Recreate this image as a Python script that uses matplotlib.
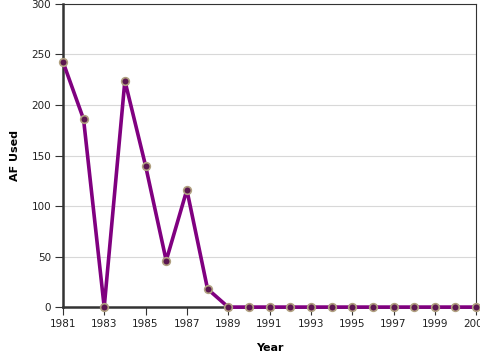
import matplotlib
matplotlib.use("Agg")
import matplotlib.pyplot as plt

years = list(range(1981, 2002))
af_used = [243, 186, 0, 224, 140, 46, 116, 18] + [0] * 13
xticks = list(range(1981, 2002, 2))
yticks = [0, 50, 100, 150, 200, 250, 300]

fig = plt.figure(figsize=(4.8, 3.6), dpi=100)
ax = fig.add_axes([0.131, 0.147, 0.861, 0.842])
ax.plot(years, af_used, color="#800080", linewidth=2.6, zorder=3, clip_on=False,
        marker="o", markersize=5.5, markerfacecolor="#5b1650", markeredgecolor="#b0a080",
        markeredgewidth=1.2)
ax.set_xlim(1981, 2001)
ax.set_ylim(0, 300)
ax.set_xticks(xticks)
ax.set_yticks(yticks)
ax.tick_params(labelsize=7.5, length=6, pad=2.5, color="#333333", labelcolor="#222222")
ax.yaxis.grid(True, color="#d8d8d8", linewidth=0.8)
ax.set_axisbelow(True)
for s in ["left", "bottom"]:
    ax.spines[s].set_linewidth(1.8)
    ax.spines[s].set_color("#333333")
for s in ["top", "right"]:
    ax.spines[s].set_linewidth(0.8)
    ax.spines[s].set_color("#333333")
ax.set_xlabel("Year", fontsize=8, fontweight="bold", labelpad=10.5)
ax.set_ylabel("AF Used", fontsize=8, fontweight="bold", labelpad=8)
fig.savefig("out.png", dpi=100)
